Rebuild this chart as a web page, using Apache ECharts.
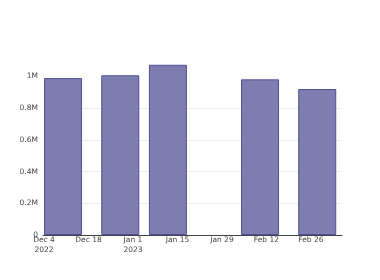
<!DOCTYPE html>
<html>
<head>
<meta charset="utf-8">
<script src="https://cdn.jsdelivr.net/npm/echarts@6/dist/echarts.min.js"></script>
<style>html,body{margin:0;padding:0;background:#fff}#c{width:380px;height:280px}</style>
</head>
<body>
<div id="c"></div>
<script>
const dates = ['2022-12-10', '2022-12-28', '2023-01-12', '2023-02-10', '2023-02-28'];
const values = [990000, 1008000, 1074000, 982000, 921000];
const xTickDates = ['2022-12-04', '2022-12-18', '2023-01-01', '2023-01-15', '2023-01-29', '2023-02-12', '2023-02-26'];
const yTicks = [0, 200000, 400000, 600000, 800000, 1000000];

const DAY = 86400000;
const t0 = Date.parse('2022-12-04T00:00:00Z');
const chart = echarts.init(document.getElementById('c'), null, {renderer: 'canvas'});
const months = ['Jan','Feb','Mar','Apr','May','Jun','Jul','Aug','Sep','Oct','Nov','Dec'];
chart.setOption({
  animation: false,
  grid: {left: 43, right: 38, top: 55.9, bottom: 45},
  xAxis: {
    type: 'value',
    min: t0 - 0.32 * DAY,
    max: t0 + 93.8 * DAY,
    axisLine: {lineStyle: {color: '#444', width: 1}},
    axisTick: {show: false},
    splitLine: {show: false},
    axisLabel: {
      customValues: xTickDates.map(d => Date.parse(d + 'T00:00:00Z')),
      color: '#444', fontSize: 7.5, fontFamily: 'DejaVu Sans', lineHeight: 9.5, margin: 0.5,
      formatter: function (v) {
        const d = new Date(v);
        let s = months[d.getUTCMonth()] + ' ' + d.getUTCDate();
        if ((d.getUTCMonth() === 11 && d.getUTCDate() === 4) || (d.getUTCMonth() === 0 && d.getUTCDate() === 1)) s += '\n' + d.getUTCFullYear();
        return s;
      }
    }
  },
  yAxis: {
    type: 'value',
    min: 0, max: 1130000,
    axisLine: {show: false},
    axisTick: {show: false, customValues: yTicks},
    splitLine: {show: true, showMaxLine: false, lineStyle: {color: '#eeeeee', width: 1}},
    axisLabel: {
      color: '#444', fontSize: 7.5, fontFamily: 'DejaVu Sans', margin: 5,
      customValues: yTicks,
      formatter: function (v) {
        if (v === 0) return '0';
        if (v >= 1000000) return (v / 1000000) + 'M';
        return (v / 1000000).toFixed(1) + 'M';
      }
    }
  },
  series: [{
    type: 'bar',
    data: dates.map((d, i) => [Date.parse(d + 'T00:00:00Z'), values[i]]),
    barWidth: 38,
    itemStyle: {color: '#7d7daf', borderColor: '#50509a', borderWidth: 1}
  }]
});
</script>
</body>
</html>
